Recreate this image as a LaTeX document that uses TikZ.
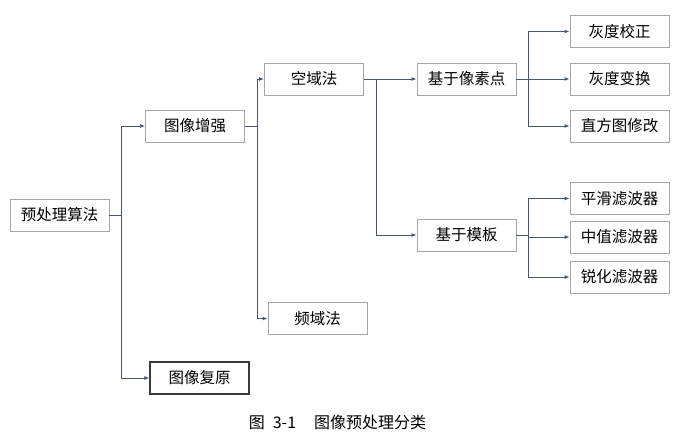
\documentclass[tikz,border=0pt]{standalone}
\usepackage{fontspec}
\setmainfont{Noto Sans CJK SC}
\usepackage{xcolor}
\usetikzlibrary{arrows.meta}
\definecolor{linkBlue}{HTML}{46587A}
\definecolor{boxGray}{HTML}{A6A6A6}
\definecolor{boxDark}{HTML}{3A3A3A}

\begin{document}
\begin{tikzpicture}[
  x=1pt, y=-1pt,
  every node/.style={font=\fontsize{15.5}{17}\selectfont},
  stagebox/.style={
    rectangle, draw=boxGray, line width=0.9pt,
    minimum width=99pt, minimum height=32pt, inner sep=0pt
  },
  link/.style={draw=linkBlue, line width=0.9pt},
  linkarrow/.style={link, -{Latex[length=5pt,width=4pt]}},
]
\useasboundingbox (0,0) rectangle (688,439);

% === LEVEL 1 ===
\node[stagebox] (algo) at (59.5,215) {预处理算法};

% === LEVEL 2 ===
\node[stagebox] (enhance) at (195,126) {图像增强};
\node[stagebox, draw=boxDark, line width=1.1pt] (restore) at (199.5,378) {图像复原};

% === LEVEL 3 ===
\node[stagebox] (spatial) at (314,79) {空域法};
\node[stagebox] (freq) at (317.5,318.5) {频域法};

% === LEVEL 4 ===
\node[stagebox] (pixel) at (466.5,79) {基于像素点};
\node[stagebox] (templ) at (466.5,235) {基于模板};

% === LEAVES ===
\node[stagebox] (gray1) at (619.5,31.5) {灰度校正};
\node[stagebox] (gray2) at (619.5,79) {灰度变换};
\node[stagebox] (hist) at (619.5,126) {直方图修改};
\node[stagebox] (filt1) at (619.5,198.5) {平滑滤波器};
\node[stagebox] (filt2) at (619.5,237) {中值滤波器};
\node[stagebox] (filt3) at (619.5,277) {锐化滤波器};

% bus points
\coordinate (bus1) at (121,215);
\coordinate (bus2) at (257,126);
\coordinate (bus3) at (376,79);
\coordinate (bus4) at (528,79);
\coordinate (bus5) at (528,235);

% === CONNECTORS ===
\draw[link] (algo.east) -- (bus1);
\foreach \n in {enhance,restore} {
  \draw[linkarrow] (bus1) |- (\n.west);
}
\draw[link] (enhance.east) -- (bus2);
\foreach \n in {spatial,freq} {
  \draw[linkarrow] (bus2) |- (\n.west);
}
\draw[linkarrow] (spatial.east) -- (pixel.west);
\draw[linkarrow] (bus3) |- (templ.west);
\draw[link] (pixel.east) -- (bus4);
\foreach \n in {gray1,gray2,hist} {
  \draw[linkarrow] (bus4) |- (\n.west);
}
\draw[link] (templ.east) -- (bus5);
\foreach \n in {filt1,filt2,filt3} {
  \draw[linkarrow] (bus5) |- (\n.west);
}

% === CAPTION ===
\node[font=\fontsize{16}{18}\selectfont] (caption) at (337.5,422) {图\hspace{8pt}3-1\hspace{18pt}图像预处理分类};

\end{tikzpicture}
\end{document}
